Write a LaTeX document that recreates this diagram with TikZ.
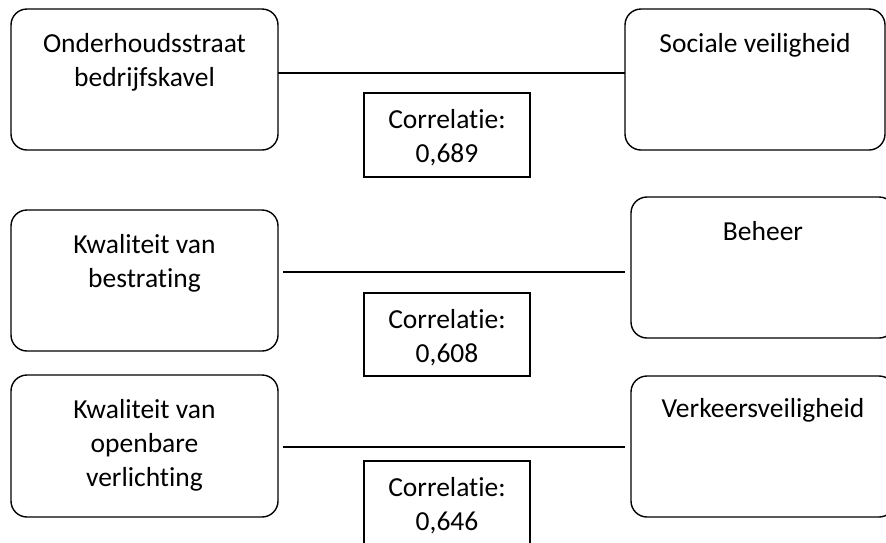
\documentclass[tikz,border=0pt]{standalone}
\usepackage{fontspec}
\setmainfont{Carlito}[Ligatures={NoCommon}]
\begin{document}
\begin{tikzpicture}[x=1pt,y=-1pt,
  factor/.style={draw,line width=1.4pt,rounded corners=16pt,inner sep=0pt,outer sep=0pt},
  corrbox/.style={draw,line width=1.1pt,minimum width=166pt,inner sep=0pt,outer sep=0pt},
  caption/.style={anchor=north,align=center,inner sep=0pt,outer sep=0pt,
    font=\fontsize{27.5}{34}\selectfont},
  link/.style={line width=1.1pt}]
\useasboundingbox (0,0) rectangle (886,542);

% left column
\node[factor,minimum width=267pt,minimum height=141pt] (b1) at (144.5,79.5) {};
\node[factor,minimum width=267pt,minimum height=141pt] (b3) at (144.5,280.5) {};
\node[factor,minimum width=267pt,minimum height=142pt] (b5) at (144.5,446) {};
% right column
\node[factor,minimum width=260pt,minimum height=141pt] (b2) at (755,79.5) {};
\node[factor,minimum width=264pt,minimum height=141pt] (b4) at (763,267.5) {};
\node[factor,minimum width=264pt,minimum height=141pt] (b6) at (763,446.5) {};

% factor captions
\node[caption] (t1) at ([yshift=-19.2pt]b1.north) {\strut Onderhoudsstraat\\bedrijfskavel};
\node[caption] (t2) at ([yshift=-19.2pt]b2.north) {\strut Sociale veiligheid};
\node[caption] (t3) at ([yshift=-19.2pt]b3.north) {\strut Kwaliteit van\\bestrating};
\node[caption] (t4) at ([yshift=-19.2pt]b4.north) {\strut Beheer};
\node[caption] (t5) at ([yshift=-19.2pt]b5.north) {\strut Kwaliteit van\\openbare\\verlichting};
\node[caption] (t6) at ([yshift=-18pt]b6.north) {\strut Verkeersveiligheid};

% correlation boxes
\node[corrbox,minimum height=84pt] (c1) at (447,135) {};
\node[corrbox,minimum height=83pt] (c2) at (447,334.5) {};
\node[corrbox,minimum height=84pt] (c3) at (447,503) {};
\node[caption] (k1) at ([yshift=-11.2pt]c1.north) {\strut Correlatie:\\0,689};
\node[caption] (k2) at ([yshift=-11.2pt]c2.north) {\strut Correlatie:\\0,608};
\node[caption] (k3) at ([yshift=-11.2pt]c3.north) {\strut Correlatie:\\0,646};

% connectors
\coordinate (y1) at (0,73);
\coordinate (y2) at (0,272);
\coordinate (y3) at (0,447);
\draw[link] (b1.east |- y1) -- (b2.west |- y1);
\draw[link,shorten <=5pt,shorten >=6pt] (b3.east |- y2) -- (b4.west |- y2);
\draw[link,shorten <=5pt,shorten >=6pt] (b5.east |- y3) -- (b6.west |- y3);
\end{tikzpicture}
\end{document}
